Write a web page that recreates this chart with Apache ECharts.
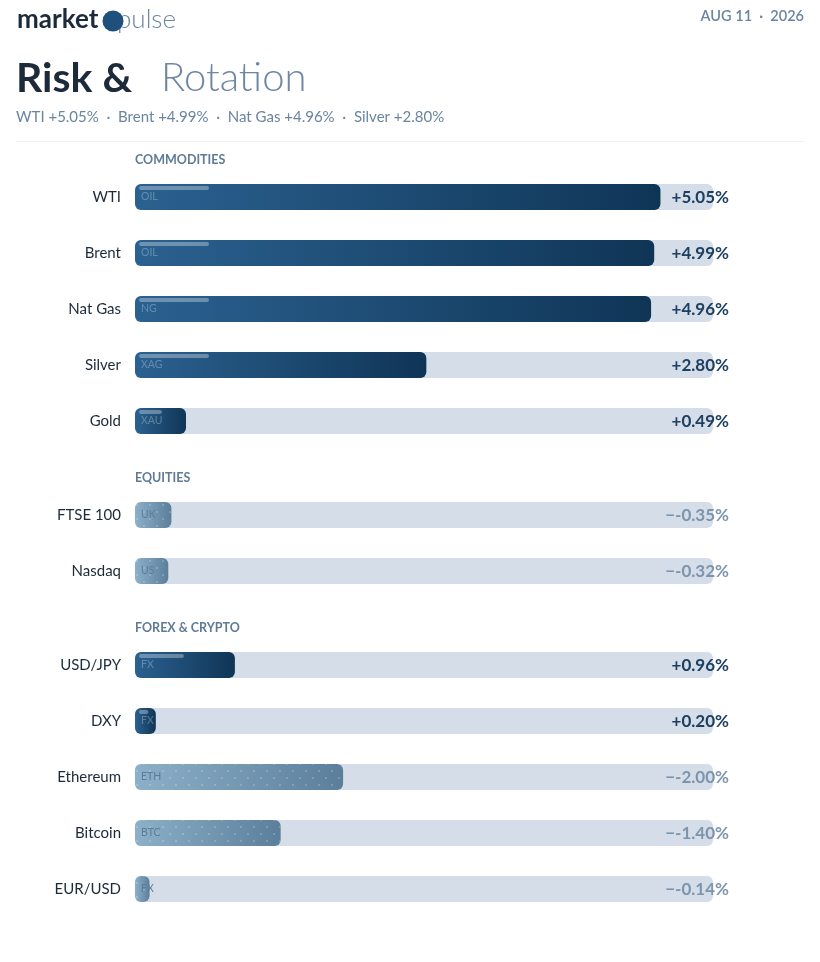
<!DOCTYPE html>
<html>
<head>
<meta charset="utf-8">
<script src="https://cdn.jsdelivr.net/npm/echarts@6/dist/echarts.min.js"></script>
<style>
	html, body { margin: 0; padding: 0; background: #fff; }
	#chart { width: 820px; height: 962px; }
</style>
</head>
<body>
<div id="chart"></div>
<script>
"use strict";

// section data
const sectionTitles = ["COMMODITIES", "EQUITIES", "FOREX & CRYPTO"];

const commodityNames = ["WTI", "Brent", "Nat Gas", "Silver", "Gold"];
const commodityValues = [5.05, 4.99, 4.96, 2.80, 0.49];
const commodityTags = ["OIL", "OIL", "NG", "XAG", "XAU"];

const equityNames = ["FTSE 100", "Nasdaq"];
const equityValues = [-0.35, -0.32];
const equityTags = ["UK", "US"];

const fxNames = ["USD/JPY", "DXY", "Ethereum", "Bitcoin", "EUR/USD"];
const fxValues = [0.96, 0.20, -2.00, -1.40, -0.14];
const fxTags = ["FX", "FX", "ETH", "BTC", "FX"];

const headlineNames = ["WTI", "Brent", "Nat Gas", "Silver"];
const headlineValues = [5.05, 4.99, 4.96, 2.80];

const FONT = "Lato, 'Source Sans Pro', 'Noto Sans', sans-serif";
const ROW = 56;
const sections = [
	{ names: commodityNames, values: commodityValues, tags: commodityTags, top: 169 },
	{ names: equityNames, values: equityValues, tags: equityTags, top: 487 },
	{ names: fxNames, values: fxValues, tags: fxTags, top: 637 }
];

const allAbs = [].concat(commodityValues, equityValues, fxValues).map(Math.abs);
const MAX = Math.max.apply(null, allAbs) * 1.1;

const fmt = (v) => v >= 0 ? "+" + v.toFixed(2) + "%" : "\u2212" + v.toFixed(2) + "%";

const posColor = () => new echarts.graphic.LinearGradient(0, 0, 1, 0, [
	{ offset: 0, color: "#2b6190" },
	{ offset: 1, color: "#0f3556" }
]);
const negColor = () => new echarts.graphic.LinearGradient(0, 0, 1, 0, [
	{ offset: 0, color: "#8db0c9" },
	{ offset: 1, color: "#5b7f9b" }
]);

const grids = [], xAxes = [], yAxes = [], series = [];

sections.forEach((s, i) => {
	grids.push({ left: 135, right: 107, top: s.top, height: s.names.length * ROW });
	xAxes.push({ type: "value", gridIndex: i, min: 0, max: MAX, show: false });
	yAxes.push({
		type: "category", gridIndex: i, data: s.names, inverse: true,
		axisLine: { show: false }, axisTick: { show: false }, splitLine: { show: false },
		axisLabel: { fontSize: 15, color: "#1c2a3a", margin: 14, fontFamily: FONT }
	});

	// background track carrying the value label
	series.push({
		type: "bar", xAxisIndex: i, yAxisIndex: i, barWidth: 26, silent: true, z: 1,
		itemStyle: { color: "#d5dde8", borderRadius: 6 },
		label: {
			show: true, position: "insideRight", distance: 0, offset: [16, 1],
			fontFamily: FONT, fontSize: 17, fontWeight: "bold",
			formatter: (p) => fmt(s.values[p.dataIndex])
		},
		data: s.names.map((n, k) => ({
			value: MAX,
			label: { color: s.values[k] >= 0 ? "#1d3f60" : "#7c95ad" }
		}))
	});

	// value bars
	series.push({
		type: "bar", xAxisIndex: i, yAxisIndex: i, barWidth: 26, barGap: "-100%", silent: true, z: 2,
		data: s.values.map((v, k) => ({
			value: Math.abs(v),
			itemStyle: v >= 0
				? { color: posColor(), borderRadius: 6 }
				: {
					color: negColor(), borderRadius: 6,
					decal: {
						symbol: "circle", symbolSize: 0.8, color: "rgba(255,255,255,0.4)",
						dashArrayX: [[2, 11], [0, 6, 2, 5]], dashArrayY: [2, 5], rotation: 0
					}
				},
			label: {
				show: true, position: "insideLeft", distance: 6,
				formatter: s.tags[k], fontFamily: FONT, fontSize: 10.5,
				color: v >= 0 ? "rgba(255,255,255,0.28)" : "#5b7d98"
			}
		}))
	});

	// glossy highlight on the positive bars
	series.push({
		type: "custom", xAxisIndex: i, yAxisIndex: i, silent: true, z: 3,
		encode: { x: 0, y: 1 },
		data: s.values.map((v, k) => [v, k]),
		renderItem: (params, api) => {
			const v = api.value(0);
			if (v < 0) return null;
			const a = api.coord([0, api.value(1)]);
			const b = api.coord([v, api.value(1)]);
			const w = Math.min(70, (b[0] - a[0]) * 0.45);
			return {
				type: "rect",
				shape: { x: a[0] + 4, y: a[1] - 11, width: w, height: 4, r: 2 },
				style: { fill: "rgba(255,255,255,0.32)" }
			};
		}
	});
});

const headline = headlineNames.map((n, k) => n + " " + fmt(headlineValues[k])).join("  \u00b7  ");

const graphic = [
	{ type: "text", left: 17, top: 7, style: { text: "market", fontFamily: FONT, fontSize: 26, fontWeight: "bold", fill: "#1c2a3a" } },
	{ type: "text", left: 117, top: 7, style: { text: "pulse", fontFamily: FONT, fontSize: 26, fontWeight: 300, fill: "#6b87a3" } },
	{ type: "circle", shape: { cx: 113, cy: 21, r: 10.5 }, style: { fill: "#1f4f7b" } },
	{ type: "text", right: 16, top: 9, style: { text: "AUG 11  \u00b7  2026", fontFamily: FONT, fontSize: 14.5, fontWeight: 600, fill: "#6b84a0" } },
	{ type: "text", left: 16, top: 58, style: { text: "Risk &", fontFamily: FONT, fontSize: 41, fontWeight: "bold", fill: "#1c2a3a" } },
	{ type: "text", left: 161, top: 58, style: { text: "Rotation", fontFamily: FONT, fontSize: 40, fontWeight: 300, fill: "#6d86a2" } },
	{ type: "text", left: 16, top: 110, style: { text: headline, fontFamily: FONT, fontSize: 15, fill: "#6b84a0" } },
	{ type: "rect", shape: { x: 16, y: 141, width: 788, height: 1 }, style: { fill: "#eceff3" } }
];
sections.forEach((s, i) => {
	graphic.push({
		type: "text", left: 135, top: s.top - 16,
		style: { text: sectionTitles[i], fontFamily: FONT, fontSize: 12.5, fontWeight: "bold", fill: "#5f7b96" }
	});
});

const chart = echarts.init(document.getElementById("chart"), null, { renderer: "canvas" });
chart.setOption({
	backgroundColor: "#ffffff",
	animation: false,
	grid: grids,
	xAxis: xAxes,
	yAxis: yAxes,
	series: series,
	graphic: graphic
});
</script>
</body>
</html>
